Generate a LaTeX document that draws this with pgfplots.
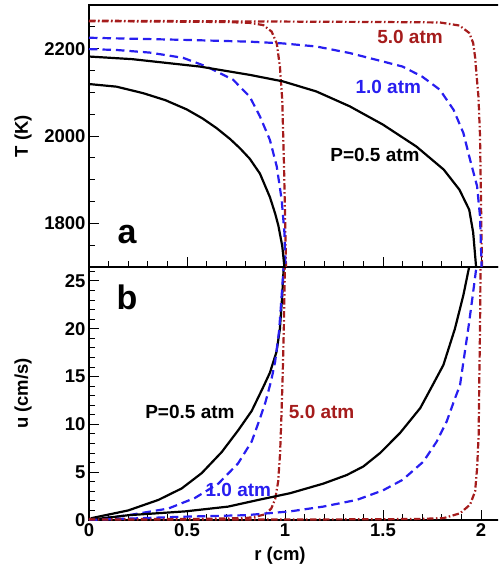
\documentclass[border=0pt]{standalone}
\usepackage{pgfplots}
\pgfplotsset{compat=1.18}
\usepackage{fontspec}
\setmainfont{Liberation Sans}
\definecolor{dred}{RGB}{165,28,28}
\definecolor{lblue}{RGB}{40,30,240}
\tikzset{
    lab/.style={font=\fontsize{19}{22}\selectfont\bfseries},
    big/.style={font=\fontsize{34}{38}\selectfont\bfseries},
    bl/.style={black, line width=2.2pt},
    bu/.style={lblue, line width=2.2pt, dash pattern=on 8.5pt off 5pt},
    rd/.style={dred, line width=2.2pt, dash pattern=on 6.5pt off 2.5pt on 1.5pt off 2.5pt},
}
\pgfplotsset{
  common/.style={
    scale only axis, width=411.6pt, xmin=0, xmax=2.1,
    xtick={0,0.5,1,1.5,2}, minor xtick={0,0.1,...,2.1},
    xtick pos=left, ytick pos=left, tick align=inside,
    major tick length=10pt, minor tick length=6pt,
    every tick/.style={black, line width=0.9pt},
    axis line style={line width=1.8pt},
    tick label style={font=\fontsize{18.5}{22}\selectfont\bfseries},
    /pgf/number format/assume math mode=true,
    /pgf/number format/set thousands separator={},
    every axis y label/.style={at={(rel axis cs:0,0.5)}, xshift=-61pt, rotate=90, anchor=base, font=\fontsize{18.5}{22}\selectfont\bfseries},
  }
}
\begin{document}
\begin{tikzpicture}
\begin{scope}
\clip (-89pt,-50pt) rectangle (409pt,520pt);
% bottom axis
\begin{axis}[common, at={(0,0)}, anchor=south west, height=253pt,
  ymin=0, ymax=26.45, ytick={0,5,10,15,20,25}, minor ytick={0,1,...,26},
  xlabel={r (cm)}, ylabel={u (cm/s)},
  every axis x label/.style={at={(rel axis cs:0.464,0)}, anchor=center, yshift=-36pt, font=\fontsize{18.5}{22}\selectfont\bfseries},
  xticklabels={0,0.5,1,1.5,2}]
\addplot[bl] coordinates {(0,0)(0.014,0.2)(0.2,1.0)(0.354,2.1)(0.473,3.3)(0.575,4.9)(0.677,7.1)(0.762,9.4)(0.83,11.4)(0.889,13.9)(0.923,15.4)(0.957,17.6)(0.974,20)(0.986,23.5)(0.995,27)};
\addplot[bu] coordinates {(0,0)(0.2,0.5)(0.405,1.2)(0.54,2.3)(0.66,3.8)(0.76,5.9)(0.83,8.2)(0.872,10.6)(0.9,12.3)(0.93,14.6)(0.95,16.6)(0.97,19.8)(0.983,23.5)(0.995,27)};
\addplot[rd] coordinates {(0,0.1)(0.5,0.1)(0.8,0.2)(0.85,0.35)(0.9,0.6)(0.93,1.2)(0.95,2.2)(0.965,4)(0.975,7)(0.982,11)(0.988,15)(0.994,20)(1.0,27)};
\addplot[bl] coordinates {(0,0)(0.2,0.5)(0.49,0.9)(0.71,1.4)(0.864,2.1)(1.026,2.8)(1.195,3.8)(1.315,4.7)(1.40,5.6)(1.485,7.0)(1.587,9.1)(1.69,11.7)(1.748,13.9)(1.808,16.2)(1.867,20.0)(1.91,23.5)(1.945,27)};
\addplot[bu] coordinates {(0,0)(0.49,0.35)(0.8,0.5)(1.026,0.9)(1.195,1.4)(1.366,2.1)(1.50,3.1)(1.60,4.2)(1.706,6.1)(1.774,8.2)(1.825,10.3)(1.867,12.7)(1.893,14.1)(1.91,16.5)(1.935,20)(1.958,23.5)(1.98,27)};
\addplot[rd] coordinates {(0,0.05)(1.0,0.05)(1.5,0.08)(1.7,0.12)(1.81,0.2)(1.893,0.7)(1.944,1.6)(1.97,3.0)(1.98,5.4)(1.988,8.9)(1.991,14.1)(1.995,20)(1.998,27)};
\node[big] at (axis cs:0.194,23.3) {b};
\node[lab] at (axis cs:0.515,11.3) {P=0.5 atm};
\node[lab, text=lblue] at (axis cs:0.762,3.1) {1.0 atm};
\node[lab, text=dred] at (axis cs:1.187,11.3) {5.0 atm};
\end{axis}
% top axis
\begin{axis}[common, at={(0,253pt)}, anchor=south west, height=262pt,
  ymin=1700, ymax=2300, ytick={1800,2000,2200}, minor ytick={1700,1750,...,2300},
  xticklabels={}, ylabel={T (K)}]
\addplot[rd] coordinates {(0,2264)(0.5,2263)(1,2262)(1.5,2261)(1.79,2260)(1.89,2253)(1.94,2236)(1.96,2213)(1.97,2180)(1.978,2136)(1.987,2090)(1.995,2000)(2.0,1850)(2.005,1700)};
\addplot[rd] coordinates {(0,2263)(0.4,2262)(0.7,2261)(0.82,2259)(0.889,2254)(0.932,2239)(0.958,2212)(0.974,2159)(0.986,2083)(0.995,1930)(1.002,1779)(1.005,1700)};
\addplot[bu] coordinates {(0,2225)(0.5,2220)(0.82,2216)(0.99,2212)(1.16,2205)(1.33,2190)(1.47,2174)(1.60,2159)(1.70,2136)(1.79,2106)(1.86,2060)(1.91,2007)(1.94,1953)(1.98,1885)(1.995,1816)(2.003,1700)};
\addplot[bu] coordinates {(0,2199)(0.14,2197)(0.31,2191)(0.48,2179)(0.60,2159)(0.735,2129)(0.82,2090)(0.872,2045)(0.923,1991)(0.958,1930)(0.983,1854)(0.997,1779)(1.003,1700)};
\addplot[bl] coordinates {(0,2182)(0.22,2176)(0.566,2159)(0.82,2140)(0.99,2125)(1.16,2102)(1.33,2068)(1.50,2026)(1.67,1976)(1.81,1923)(1.89,1877)(1.94,1831)(1.96,1779)(1.975,1700)};
\addplot[bl] coordinates {(0,2119)(0.14,2113)(0.277,2098)(0.39,2082)(0.498,2061)(0.58,2040)(0.651,2018)(0.72,1993)(0.77,1972)(0.82,1948)(0.872,1914)(0.923,1860)(0.95,1822)(0.966,1795)(0.986,1748)(0.997,1700)};
\node[big] at (axis cs:0.194,1775) {a};
\node[lab] at (axis cs:1.459,1957) {P=0.5 atm};
\node[lab, text=lblue] at (axis cs:1.527,2113) {1.0 atm};
\node[lab, text=dred] at (axis cs:1.638,2226) {5.0 atm};
\end{axis}
\end{scope}
\pgfresetboundingbox
\useasboundingbox (-89pt,-50pt) rectangle (409pt,520pt);
\end{tikzpicture}
\end{document}
